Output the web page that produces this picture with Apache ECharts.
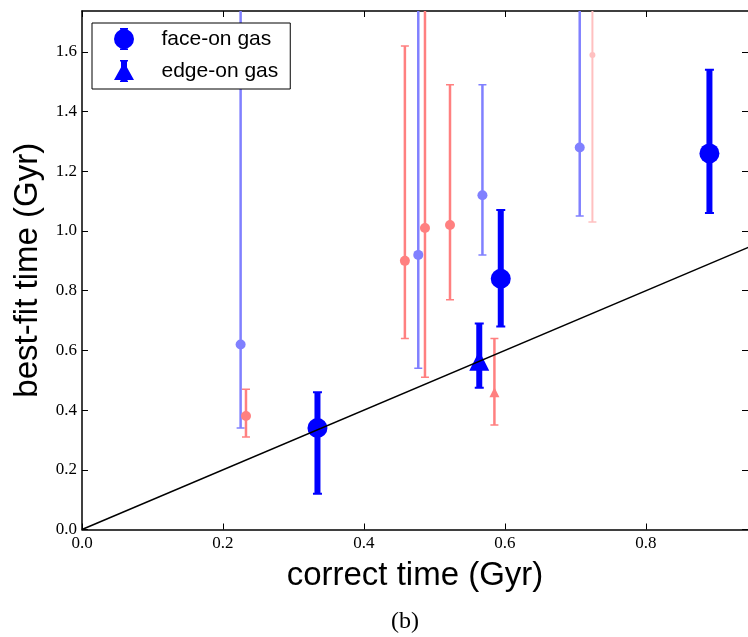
<!DOCTYPE html>
<html><head><meta charset="utf-8">
<script src="https://cdn.jsdelivr.net/npm/echarts@6/dist/echarts.min.js"></script>
<style>html,body{margin:0;padding:0;background:#fff}#c{width:748px;height:637px}</style>
</head><body><div id="c"></div>
<script>
// ---- data ----
const xTicks = [0, 0.2, 0.4, 0.6, 0.8];
const yTicks = [0, 0.2, 0.4, 0.6, 0.8, 1.0, 1.2, 1.4, 1.6];
const xMax = 0.9447, yMax = 1.737;

// face-on gas (highlighted)
const faceX  = [0.334, 0.594, 0.890];
const faceY  = [0.34, 0.84, 1.26];
const faceLo = [0.12, 0.68, 1.06];
const faceHi = [0.46, 1.07, 1.54];
// edge-on gas (highlighted)
const edgeX  = [0.5635];
const edgeY  = [0.565];
const edgeLo = [0.475];
const edgeHi = [0.69];
// light blue points
const lbX  = [0.225, 0.477, 0.568, 0.706];
const lbY  = [0.62, 0.92, 1.12, 1.28];
const lbLo = [0.34, 0.54, 0.92, 1.05];
const lbHi = [2.2, 2.2, 1.49, 2.2];
// light red points
const lrX  = [0.2326, 0.458, 0.4865, 0.522];
const lrY  = [0.38, 0.90, 1.01, 1.02];
const lrLo = [0.31, 0.64, 0.51, 0.77];
const lrHi = [0.47, 1.62, 2.2, 1.49];
// pale red point
const prX  = [0.724];
const prY  = [1.59];
const prLo = [1.03];
const prHi = [2.2];
// light red triangle
const rtX  = [0.585];
const rtY  = [0.46];
const rtLo = [0.35];
const rtHi = [0.64];
// one-to-one line
const lineX = [0, 1];

// ---- helpers ----
const pts = (xs, ys) => xs.map((x, i) => [x, ys[i]]);
const errs = (xs, lo, hi) => xs.map((x, i) => [x, lo[i], hi[i]]);
function errSeries(xs, lo, hi, color, lw, capW, capLw, z) {
  return {
    type: 'custom', clip: true, z: z, silent: true,
    data: errs(xs, lo, hi),
    encode: {x: 0, y: [1, 2]},
    renderItem: function (params, api) {
      const x = api.value(0);
      const a = api.coord([x, api.value(1)]);
      const b = api.coord([x, api.value(2)]);
      return {type: 'group', children: [
        {type: 'line', shape: {x1: a[0], y1: a[1], x2: b[0], y2: b[1]}, style: {stroke: color, lineWidth: lw}},
        {type: 'line', shape: {x1: a[0] - capW / 2, y1: a[1], x2: a[0] + capW / 2, y2: a[1]}, style: {stroke: color, lineWidth: capLw}},
        {type: 'line', shape: {x1: b[0] - capW / 2, y1: b[1], x2: b[0] + capW / 2, y2: b[1]}, style: {stroke: color, lineWidth: capLw}}
      ]};
    }
  };
}

const tickFont = {fontFamily: 'Liberation Serif', fontSize: 17, color: '#000'};
const axisLine = {show: true, onZero: false, lineStyle: {color: '#000', width: 1.5}};
const tickStyle = {color: '#000', width: 1};

const iconFace = 'path://M6,0 L14,0 L14,1.6 L6,1.6 Z M6,20.4 L14,20.4 L14,22 L6,22 Z M0,11 A10,10 0 1,1 20,11 A10,10 0 1,1 0,11 Z';
const iconEdge = 'path://M6,0 L14,0 L14,1.6 L6,1.6 Z M7,0 L13,0 L13,10 L7,10 Z M10,2 L20,20 L0,20 Z M7,18 L13,18 L13,22 L7,22 Z M6,20.4 L14,20.4 L14,22 L6,22 Z';

const option = {
  animation: false,
  backgroundColor: '#fff',
  grid: {left: 82, top: 11, width: 666, height: 518.5, containLabel: false},
  xAxis: [{
    type: 'value', min: 0, max: xMax,
    name: 'correct time (Gyr)', nameLocation: 'middle', nameGap: 30,
    nameTextStyle: {fontFamily: 'Liberation Sans', fontSize: 33, color: '#000'},
    axisLine: axisLine,
    axisTick: {show: true, inside: true, length: 6, customValues: xTicks, lineStyle: tickStyle},
    axisLabel: {show: true, margin: 6, customValues: xTicks, formatter: v => v.toFixed(1), ...tickFont},
    splitLine: {show: false}
  }, {
    type: 'value', min: 0, max: xMax, position: 'top',
    axisLine: axisLine,
    axisTick: {show: true, inside: true, length: 6, customValues: xTicks, lineStyle: tickStyle},
    axisLabel: {show: false}, splitLine: {show: false}
  }],
  yAxis: [{
    type: 'value', min: 0, max: yMax,
    name: 'best-fit time (Gyr)', nameLocation: 'middle', nameGap: 37,
    nameTextStyle: {fontFamily: 'Liberation Sans', fontSize: 33, color: '#000'},
    axisLine: axisLine,
    axisTick: {show: true, inside: true, length: 6, customValues: yTicks, lineStyle: tickStyle},
    axisLabel: {show: true, margin: 5, customValues: yTicks, formatter: v => v.toFixed(1), ...tickFont},
    splitLine: {show: false}
  }, {
    type: 'value', min: 0, max: yMax, position: 'right',
    axisLine: {show: false, onZero: false},
    axisTick: {show: true, inside: true, length: 6, customValues: yTicks, lineStyle: tickStyle},
    axisLabel: {show: false}, splitLine: {show: false}
  }],
  legend: {
    left: 92, top: 23, orient: 'vertical',
    padding: [5, 12, 7, 22], itemGap: 10,
    itemWidth: 65, itemHeight: 22, symbolKeepAspect: true,
    borderColor: '#000', borderWidth: 1, borderRadius: 0,
    backgroundColor: '#fff', selectedMode: false,
    textStyle: {fontFamily: 'Liberation Sans', fontSize: 21, color: '#000'},
    data: [{name: 'face-on gas', icon: iconFace}, {name: 'edge-on gas', icon: iconEdge}]
  },
  graphic: [{
    type: 'text', x: 405, y: 622,
    style: {text: '(b)', font: '24px "Liberation Serif"', fill: '#000', textAlign: 'center', textVerticalAlign: 'middle'}
  }],
  series: [
    errSeries(prX, prLo, prHi, '#ffc0c0', 2, 8, 1.5, 2),
    {type: 'scatter', name: 'pale', data: pts(prX, prY), symbol: 'circle', symbolSize: 6, itemStyle: {color: '#ffc0c0', opacity: 1}, z: 3, silent: true},
    errSeries(lbX, lbLo, lbHi, '#8080ff', 2.5, 8, 1.5, 2),
    {type: 'scatter', name: 'lightblue', data: pts(lbX, lbY), symbol: 'circle', symbolSize: 10, itemStyle: {color: '#8080ff', opacity: 1}, z: 3, silent: true},
    errSeries(lrX, lrLo, lrHi, '#ff8080', 2.5, 8, 1.5, 2),
    {type: 'scatter', name: 'lightred', data: pts(lrX, lrY), symbol: 'circle', symbolSize: 10, itemStyle: {color: '#ff8080', opacity: 1}, z: 3, silent: true},
    errSeries(rtX, rtLo, rtHi, '#ff8080', 2.5, 8, 1.5, 2),
    {type: 'scatter', name: 'redtri', data: pts(rtX, rtY), symbol: 'triangle', symbolSize: [10, 10], itemStyle: {color: '#ff8080', opacity: 1}, z: 3, silent: true},
    errSeries(faceX, faceLo, faceHi, '#0000ff', 6, 9, 2, 4),
    {type: 'scatter', name: 'face-on gas', data: pts(faceX, faceY), symbol: 'circle', symbolSize: 20, itemStyle: {color: '#0000ff', opacity: 1}, z: 5, silent: true},
    errSeries(edgeX, edgeLo, edgeHi, '#0000ff', 6, 9, 2, 4),
    {type: 'scatter', name: 'edge-on gas', data: pts(edgeX, edgeY), symbol: 'triangle', symbolSize: [20, 20], itemStyle: {color: '#0000ff', opacity: 1}, z: 5, silent: true},
    {type: 'line', name: 'one-to-one', data: pts(lineX, lineX), showSymbol: false, symbol: 'none', clip: true,
     lineStyle: {color: '#000', width: 1.5}, z: 6, silent: true}
  ]
};
const chart = echarts.init(document.getElementById('c'), null, {renderer: 'canvas'});
chart.setOption(option);
</script></body></html>
